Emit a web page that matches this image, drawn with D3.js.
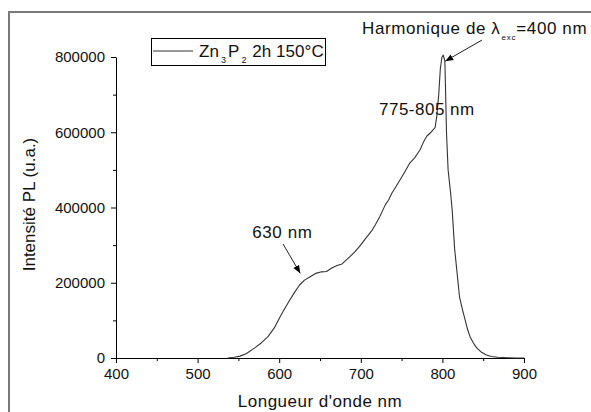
<!DOCTYPE html>
<html>
<head>
<meta charset="utf-8">
<script src="https://cdn.jsdelivr.net/npm/d3@7"></script>
<style>
  html, body { margin: 0; padding: 0; background: #fff; }
  svg { display: block; font-family: "Liberation Sans", Arial, sans-serif; }
</style>
</head>
<body>
<svg id="chart" width="591" height="412"></svg>
<script>
// ---- Data ----
const wavelength = [537, 545, 552, 560, 570, 578, 586, 594, 601, 607, 613, 619, 625, 631, 638, 645, 652, 658, 665, 671, 677, 681, 687, 693, 699, 706, 714, 718, 723, 727, 730, 734, 738, 743, 748, 754, 760, 766, 770, 773, 777, 781, 785, 788, 791, 793, 795.5, 797.5, 799.5, 801, 803, 804, 805, 807, 810, 812, 815, 818, 821, 825, 828, 831, 834, 838, 842, 848, 854, 860, 868, 880, 890, 900];
const intensity  = [0, 2000, 5000, 12000, 27000, 40000, 56000, 80000, 109000, 132000, 154000, 175000, 194000, 207000, 216000, 225000, 229000, 230000, 240000, 246000, 250000, 258000, 270000, 283000, 298000, 318000, 340000, 355000, 375000, 393000, 407000, 420000, 438000, 455000, 473000, 495000, 518000, 532000, 545000, 555000, 575000, 590000, 598000, 605000, 612000, 640000, 700000, 770000, 800000, 805000, 790000, 700000, 600000, 500000, 440000, 393000, 290000, 226000, 162000, 125000, 100000, 75000, 56000, 40000, 27000, 15000, 8000, 4000, 2000, 500, 0, 0];
const xTicks = [400, 500, 600, 700, 800, 900];
const xMinorTicks = [450, 550, 650, 750, 850];
const yTicks = [0, 200000, 400000, 600000, 800000];
const yMinorTicks = [100000, 300000, 500000, 700000];
const seriesName = ["Zn", "3", "P", "2", " 2h 150°C"];
const xTitle = "Longueur d'onde nm";
const yTitle = "Intensité PL (u.a.)";

const svg = d3.select("#chart");

// outer frame
svg.append("rect").attr("x", 9).attr("y", 12).attr("width", 620).attr("height", 440)
  .attr("fill", "none").attr("stroke", "#7a7a7a").attr("stroke-width", 2);

const x = d3.scaleLinear().domain([400, 900]).range([116, 524]);
const y = d3.scaleLinear().domain([0, 800000]).range([358, 57]);

// x axis
const gx = svg.append("g").attr("transform", `translate(0,${y(0)})`);
gx.call(d3.axisBottom(x).tickValues(xTicks).tickSize(5).tickSizeOuter(0).tickPadding(5).tickFormat(d3.format("d")));
gx.append("g").call(d3.axisBottom(x).tickValues(xMinorTicks).tickSize(3).tickSizeOuter(0).tickFormat(""))
  .select(".domain").remove();

// y axis
const gy = svg.append("g").attr("transform", `translate(${x(400)},0)`);
gy.call(d3.axisLeft(y).tickValues(yTicks).tickSize(5).tickSizeOuter(0).tickPadding(6).tickFormat(d3.format("d")));
gy.append("g").call(d3.axisLeft(y).tickValues(yMinorTicks).tickSize(3).tickSizeOuter(0).tickFormat(""))
  .select(".domain").remove();

svg.selectAll(".tick text").attr("font-size", 15).attr("fill", "#111").attr("font-family", "Liberation Sans, Arial, sans-serif");
svg.selectAll(".domain, .tick line").attr("stroke", "#000").attr("stroke-width", 1);

// axis titles
svg.append("text").attr("x", (x(400) + x(900)) / 2).attr("y", 407)
  .attr("text-anchor", "middle").attr("font-size", 17).attr("letter-spacing", 0.5).attr("fill", "#111").text(xTitle);
svg.append("text").attr("transform", `translate(35,${(y(0) + y(800000)) / 2 - 3}) rotate(-90)`)
  .attr("text-anchor", "middle").attr("font-size", 17).attr("fill", "#111").text(yTitle);

// curve
const pts = wavelength.map((w, i) => [w, intensity[i]]);
svg.append("path").datum(pts)
  .attr("fill", "none").attr("stroke", "#333").attr("stroke-width", 1.1).attr("stroke-linejoin", "round")
  .attr("d", d3.line().x(d => x(d[0])).y(d => y(d[1])));

// legend
const lg = svg.append("g");
lg.append("rect").attr("x", 151.5).attr("y", 38.5).attr("width", 174).attr("height", 27)
  .attr("fill", "#fff").attr("stroke", "#000").attr("stroke-width", 1);
lg.append("line").attr("x1", 153).attr("x2", 193).attr("y1", 51).attr("y2", 51)
  .attr("stroke", "#333").attr("stroke-width", 1.1);
const lt = lg.append("text").attr("x", 199).attr("y", 57).attr("font-size", 17).attr("letter-spacing", 0.05).attr("fill", "#111");
lt.append("tspan").text(seriesName[0]);
lt.append("tspan").attr("font-size", 9).attr("dy", 6).attr("dx", 2).text(seriesName[1]);
lt.append("tspan").attr("dy", -6).attr("dx", 2).text(seriesName[2]);
lt.append("tspan").attr("font-size", 9).attr("dy", 6).attr("dx", 2).text(seriesName[3]);
lt.append("tspan").attr("dy", -6).attr("dx", 1).text(seriesName[4]);

// annotations (positions in data units)
const defs = svg.append("defs");
defs.append("marker").attr("id", "ah").attr("viewBox", "0 0 10 10").attr("refX", 10).attr("refY", 5)
  .attr("markerWidth", 8).attr("markerHeight", 8).attr("markerUnits", "userSpaceOnUse").attr("orient", "auto")
  .append("path").attr("d", "M0,1 L10,5 L0,9 Z").attr("fill", "#000");

function arrow(x1, y1, x2, y2) {
  svg.append("line").attr("x1", x(x1)).attr("y1", y(y1)).attr("x2", x(x2)).attr("y2", y(y2))
    .attr("stroke", "#222").attr("stroke-width", 1).attr("marker-end", "url(#ah)");
}
arrow(848.5, 845000, 803.5, 789000);
arrow(604.7, 303000, 625.8, 225000);

const ht = svg.append("text").attr("x", x(701.5)).attr("y", y(861000)).attr("font-size", 17).attr("letter-spacing", 0.6).attr("fill", "#111");
ht.append("tspan").text("Harmonique de λ");
ht.append("tspan").attr("font-size", 8).attr("dy", 6).attr("dx", 1).attr("letter-spacing", 0.8).text("exc");
ht.append("tspan").attr("dy", -6).text("=400 nm");

svg.append("text").attr("x", x(722.3)).attr("y", y(646000)).attr("font-size", 17).attr("letter-spacing", 0.5).attr("fill", "#111").text("775-805 nm");
svg.append("text").attr("x", x(567)).attr("y", y(319000)).attr("font-size", 17).attr("letter-spacing", 0.6).attr("fill", "#111").text("630 nm");
</script>
</body>
</html>
